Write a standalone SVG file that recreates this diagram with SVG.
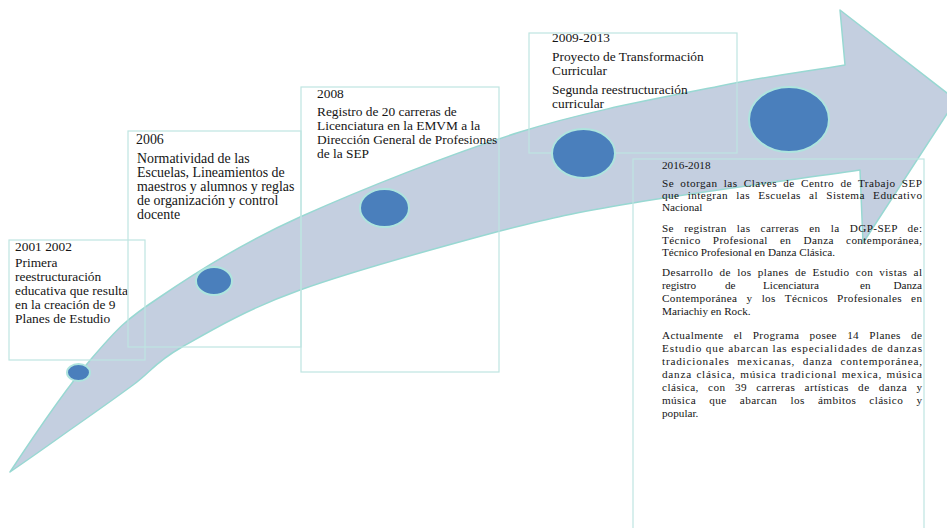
<svg xmlns="http://www.w3.org/2000/svg" width="947" height="528" viewBox="0 0 947 528">
<style>
.box{fill:none;stroke:#bfe5e1;stroke-width:1.2}
.dot{fill:#4a7fbc;stroke:#aee4de;stroke-width:2}
.t{font-family:"Liberation Serif","Times New Roman",serif;font-size:13.4px;fill:#151515}
.t2{font-family:"Liberation Serif","Times New Roman",serif;font-size:13.9px;fill:#151515}
.s{font-family:"Liberation Serif","Times New Roman",serif;font-size:11.2px;fill:#151515}
</style>
<rect width="947" height="528" fill="#ffffff"/>
<g id="connectors">
<path id="arrow" fill="#c4cfe0" stroke="#98d8d2" stroke-width="1.5" stroke-linejoin="round" d="M10,472 C35,434 67,387 92,358 C117,329 125,320 160,297 C195,273 240,244 300,217 C360,190 450,154 520,132 C590,110 666,97 720,86 C774,75 803,72 845,65 L840,10 L956,100 L863,243 L860,170 C784,181 693,193 633,203 C573,213 555,217 500,231 C444,246 353,271 300,290 C247,309 210,331 182,347 C154,363 152,371 133,385 C114,399 87,418 67,432 C46,447 29,459 10,472 Z"/>
</g>
<g id="node-2001">
<rect class="box" x="9" y="240" width="136" height="120"/>
<ellipse class="dot" cx="78.5" cy="372.5" rx="11.5" ry="8.5"/>
<text class="t" x="15" y="251">2001 2002</text>
<text class="t" x="15" y="267">Primera</text>
<text class="t" x="15" y="281">reestructuración</text>
<text class="t" x="15" y="295">educativa que resulta</text>
<text class="t" x="15" y="309">en la creación de 9</text>
<text class="t" x="15" y="323">Planes de Estudio</text>
</g>
<g id="node-2006">
<rect class="box" x="128" y="131" width="173" height="216"/>
<ellipse class="dot" cx="214" cy="281" rx="18" ry="14"/>
<text class="t2" x="136" y="144">2006</text>
<text class="t2" x="137" y="163">Normatividad de las</text>
<text class="t2" x="137" y="177">Escuelas, Lineamientos de</text>
<text class="t2" x="137" y="191">maestros y alumnos y reglas</text>
<text class="t2" x="137" y="205">de organización y control</text>
<text class="t2" x="137" y="219">docente</text>
</g>
<g id="node-2008">
<rect class="box" x="301" y="87" width="198" height="285"/>
<ellipse class="dot" cx="384.5" cy="208" rx="24.5" ry="19"/>
<text class="t" x="317" y="98">2008</text>
<text class="t" x="317" y="116">Registro de 20 carreras de</text>
<text class="t" x="317" y="130">Licenciatura en la EMVM a la</text>
<text class="t" x="317" y="144">Dirección General de Profesiones</text>
<text class="t" x="317" y="158">de la SEP</text>
</g>
<g id="node-2009">
<rect class="box" x="529" y="33" width="208" height="120"/>
<ellipse class="dot" cx="583.5" cy="153.5" rx="31.5" ry="24.5"/>
<text class="t" x="552" y="42">2009-2013</text>
<text class="t" x="552" y="61">Proyecto de Transformación</text>
<text class="t" x="552" y="75">Curricular</text>
<text class="t" x="552" y="94">Segunda reestructuración</text>
<text class="t" x="552" y="108">curricular</text>
</g>
<g id="node-2016">
<ellipse class="dot" cx="789" cy="119.5" rx="40" ry="32.5"/>
<rect class="box" x="633" y="159" width="291" height="380"/>
<text class="s" x="662" y="169">2016-2018</text>
<text class="s" x="662" y="187" textLength="260" lengthAdjust="spacing" word-spacing="3">Se otorgan las Claves de Centro de Trabajo SEP</text>
<text class="s" x="662" y="199" textLength="260" lengthAdjust="spacing" word-spacing="5">que integran las Escuelas al Sistema Educativo</text>
<text class="s" x="662" y="211">Nacional</text>
<text class="s" x="662" y="232" textLength="260" lengthAdjust="spacing" word-spacing="7">Se registran las carreras en la DGP-SEP de:</text>
<text class="s" x="662" y="244" textLength="260" lengthAdjust="spacing" word-spacing="9">Técnico Profesional en Danza contemporánea,</text>
<text class="s" x="662" y="256">Técnico Profesional en Danza Clásica.</text>
<text class="s" x="662" y="276" textLength="260" lengthAdjust="spacing" word-spacing="3">Desarrollo de los planes de Estudio con vistas al</text>
<text class="s" y="289"><tspan x="662">registro</tspan> <tspan x="725">de</tspan> <tspan x="763">Licenciatura</tspan> <tspan x="860">en</tspan> <tspan x="922" text-anchor="end">Danza</tspan></text>
<text class="s" x="662" y="302" textLength="260" lengthAdjust="spacing" word-spacing="6">Contemporánea y los Técnicos Profesionales en</text>
<text class="s" x="662" y="315">Mariachiy en Rock.</text>
<text class="s" x="662" y="339" textLength="260" lengthAdjust="spacing" word-spacing="7">Actualmente el Programa posee 14 Planes de</text>
<text class="s" x="662" y="352" textLength="260" lengthAdjust="spacing">Estudio que abarcan las especialidades de danzas</text>
<text class="s" x="662" y="365" textLength="260" lengthAdjust="spacing" word-spacing="4">tradicionales mexicanas, danza contemporánea,</text>
<text class="s" x="662" y="378" textLength="260" lengthAdjust="spacing" word-spacing="1">danza clásica, música tradicional mexica, música</text>
<text class="s" x="662" y="391" textLength="260" lengthAdjust="spacing" word-spacing="6">clásica, con 39 carreras artísticas de danza y</text>
<text class="s" x="662" y="404" textLength="260" lengthAdjust="spacing" word-spacing="10">música que abarcan los ámbitos clásico y</text>
<text class="s" x="662" y="417">popular.</text>
</g>
</svg>
